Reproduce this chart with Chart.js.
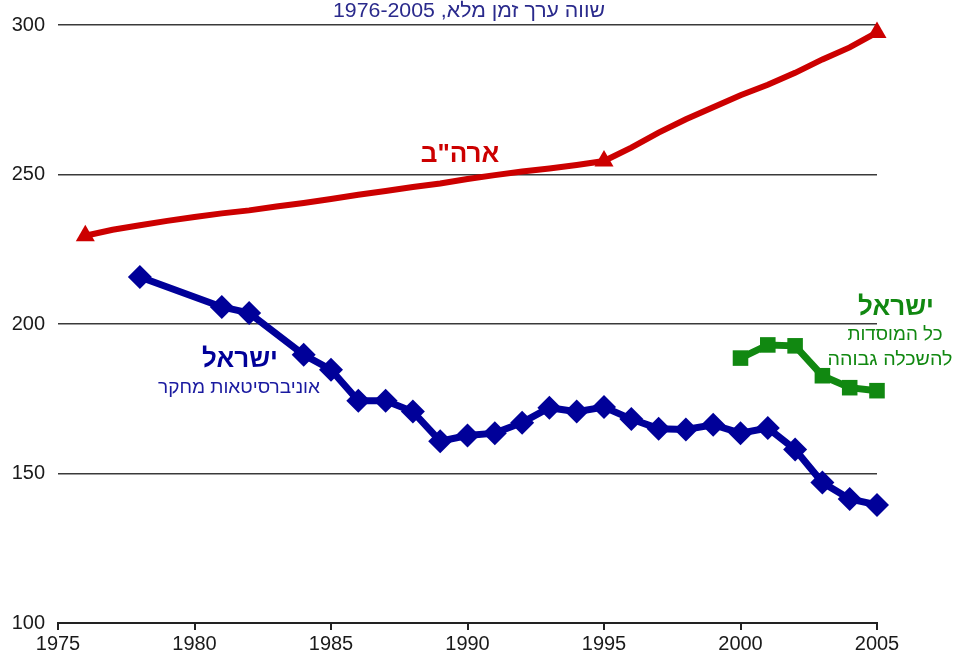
<!DOCTYPE html>
<html>
<head>
<meta charset="utf-8">
<script src="https://cdn.jsdelivr.net/npm/chart.js@4/dist/chart.umd.min.js"></script>
<style>
  html, body { margin: 0; padding: 0; background: #fff; }
  #wrap { width: 957px; height: 659px; position: relative; }
</style>
</head>
<body>
<div id="wrap"><canvas id="chart"></canvas></div>
<script>
// שנים וערכים
const usYears = [1976, 1977, 1978, 1979, 1980, 1981, 1982, 1983, 1984, 1985, 1986, 1987, 1988, 1989, 1990,
                 1991, 1992, 1993, 1994, 1995, 1996, 1997, 1998, 1999, 2000, 2001, 2002, 2003, 2004, 2005];
const usValues = [229.5, 231.5, 233, 234.5, 235.8, 237, 238, 239.3, 240.5, 241.8, 243.2, 244.5, 245.8, 247, 248.5,
                  249.8, 251, 252, 253.2, 254.5, 259, 264, 268.5, 272.5, 276.5, 280, 284, 288.5, 292.5, 297.5];
const usMarkerYears = [1976, 1995, 2005];

const uniYears = [1978, 1981, 1982, 1984, 1985, 1986, 1987, 1988, 1989, 1990, 1991, 1992, 1993,
                  1994, 1995, 1996, 1997, 1998, 1999, 2000, 2001, 2002, 2003, 2004, 2005];
const uniValues = [215.7, 205.7, 203.7, 189.7, 184.7, 174.3, 174.3, 170.7, 160.8, 162.7, 163.5, 167, 172,
                   170.7, 172.2, 168.2, 165, 164.7, 166.3, 163.5, 165.2, 158, 147, 141.5, 139.5];

const allYears = [2000, 2001, 2002, 2003, 2004, 2005];
const allValues = [188.6, 193, 192.7, 182.7, 178.7, 177.7];

const xTicks = [1975, 1980, 1985, 1990, 1995, 2000, 2005];
const yTicks = [100, 150, 200, 250, 300];

const title = 'שווה ערך זמן מלא, 1976-2005';
const labels = [
  { text: 'ארה"ב', x: 460, y: 155, color: '#cc0000', font: 'bold 26px "Liberation Sans", Arial' },
  { text: 'ישראל', x: 240, y: 360, color: '#000099', font: 'bold 26px "Liberation Sans", Arial' },
  { text: 'אוניברסיטאות מחקר', x: 239, y: 388, color: '#1a1aa0', font: '19px "Liberation Sans", Arial', w: 162 },
  { text: 'ישראל', x: 896, y: 308, color: '#118811', font: 'bold 26px "Liberation Sans", Arial' },
  { text: 'כל המוסדות', x: 895, y: 335, color: '#118811', font: '19px "Liberation Sans", Arial', w: 95 },
  { text: 'להשכלה גבוהה', x: 890, y: 360, color: '#118811', font: '19px "Liberation Sans", Arial', w: 125 }
];

const pts = (xs, ys) => xs.map((x, i) => ({ x: x, y: ys[i] }));

// כותב טקסט ומכווץ אותו לרוחב הרצוי
function drawText(ctx, text, x, y, font, color, width) {
  ctx.save();
  ctx.font = font;
  ctx.fillStyle = color;
  ctx.textAlign = 'center';
  ctx.textBaseline = 'middle';
  ctx.direction = 'rtl';
  ctx.translate(x, y);
  if (width) {
    const w = ctx.measureText(text).width;
    ctx.scale(width / w, 1);
  }
  ctx.fillText(text, 0, 0);
  ctx.restore();
}

const textPlugin = {
  id: 'texts',
  afterDatasetsDraw(chart) {
    const ctx = chart.ctx;
    drawText(ctx, title, 469, 11, '20px "Liberation Sans", Arial', '#2a2a8c', 272);
    labels.forEach(l => drawText(ctx, l.text, l.x, l.y, l.font, l.color, l.w));
  }
};

new Chart(document.getElementById('chart'), {
  type: 'line',
  data: {
    datasets: [
      {
        label: 'ארה"ב',
        data: pts(usYears, usValues),
        borderColor: '#cc0000',
        backgroundColor: '#cc0000',
        borderWidth: 6,
        pointStyle: 'triangle',
        pointRadius: usYears.map(y => usMarkerYears.includes(y) ? 11 : 0),
        pointBorderWidth: 0,
        clip: false,
        tension: 0
      },
      {
        label: 'ישראל - אוניברסיטאות מחקר',
        data: pts(uniYears, uniValues),
        borderColor: '#000099',
        backgroundColor: '#000099',
        borderWidth: 7,
        pointStyle: 'rectRot',
        pointRadius: 12,
        pointBorderWidth: 0,
        clip: false,
        tension: 0
      },
      {
        label: 'ישראל - כל המוסדות להשכלה גבוהה',
        data: pts(allYears, allValues),
        borderColor: '#118811',
        backgroundColor: '#118811',
        borderWidth: 7,
        pointStyle: 'rect',
        pointRadius: 11,
        pointBorderWidth: 0,
        clip: false,
        tension: 0
      }
    ]
  },
  options: {
    responsive: true,
    maintainAspectRatio: false,
    animation: false,
    layout: { padding: { left: 0, right: 80, top: 23, bottom: 0 } },
    plugins: {
      legend: { display: false },
      tooltip: { enabled: false }
    },
    scales: {
      x: {
        type: 'linear',
        min: 1975,
        max: 2005,
        afterBuildTicks: scale => { scale.ticks = xTicks.map(v => ({ value: v })); },
        afterFit: scale => { scale.height = 36; },
        border: { display: true, color: '#222', width: 2 },
        grid: { drawOnChartArea: false, drawTicks: true, tickLength: 7, color: '#222', lineWidth: 2 },
        ticks: {
          color: '#1a1a1a',
          padding: 2,
          font: { size: 20, family: '"Liberation Sans", Arial' },
          callback: v => String(v)
        }
      },
      y: {
        min: 100,
        max: 300,
        afterBuildTicks: scale => { scale.ticks = yTicks.map(v => ({ value: v })); },
        afterFit: scale => { scale.width = 58; },
        border: { display: false },
        grid: { drawTicks: false, color: '#3a3a3a', lineWidth: 1.6 },
        ticks: {
          color: '#1a1a1a',
          padding: 13,
          font: { size: 20, family: '"Liberation Sans", Arial' }
        }
      }
    }
  },
  plugins: [textPlugin]
});
</script>
</body>
</html>
